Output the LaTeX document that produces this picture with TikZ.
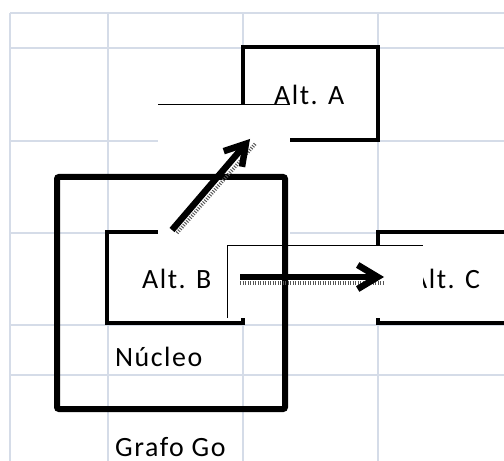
\documentclass[tikz,border=0pt]{standalone}
\usepackage{fontspec}
\setmainfont{Carlito}[LetterSpace=5.5]
\usetikzlibrary{arrows.meta}
\definecolor{gridc}{HTML}{D5DCE8}
\definecolor{shadc}{HTML}{555555}
\tikzset{
  gridline/.style={draw=gridc, line width=2bp},
  altbox/.style={draw=black, line width=4bp},
  grafobox/.style={draw=black, line width=6bp, rounded corners=2bp},
  cover/.style={fill=white, draw=none},
  thinedge/.style={draw=black, line width=1bp},
  lbl/.style={anchor=base west, inner sep=0pt, font=\fontsize{28}{32}\selectfont},
  bigarrow/.style={draw=black, line width=6.5bp, -{Straight Barb[length=20bp,width=24bp]}},
  shadowline/.style={draw=shadc, line width=3.5bp, dash pattern=on 1bp off 1.5bp},
}
\begin{document}
\begin{tikzpicture}[x=1bp,y=-1bp]
\useasboundingbox (0,0) rectangle (504,461);
\clip (0,0) rectangle (504,461);
\fill[white] (0,0) rectangle (504,461);
% grid
\foreach \gx in {10,108,243,378} \draw[gridline] (\gx,13) -- (\gx,470);
\foreach \gy in {13,48,141,233,325,375} \draw[gridline] (10,\gy) -- (510,\gy);
% alternative boxes
\draw[altbox] (243,47) rectangle (378,140);
\node[lbl] (ta) at (274,105) {Alt. A};
\draw[altbox] (107,232) rectangle (243,323);
\node[lbl] (tb) at (142,288) {Alt. B};
\draw[altbox] (378,232) rectangle (530,323);
\node[lbl] (tc) at (411,288) {Alt. C};
% covering white boxes
\fill[cover] (158,105) rectangle (290,245);
\draw[thinedge] (158,105) -- (290,105);
\fill[cover] (227,245) rectangle (423,318);
\draw[thinedge] (227,318) -- (227,245) -- (423,245);
% Grafo box
\draw[grafobox] (57,177) rectangle (285,409);
% arrows
\coordinate (a1s) at (172,230);
\coordinate (a1e) at (250,139);
\coordinate (a2s) at (240,277);
\coordinate (a2e) at (384,277);
\draw[shadowline] ([shift={(5,3)}]a1s) -- ([shift={(6,4)}]a1e);
\draw[shadowline] ([shift={(0,6)}]a2s) -- ([shift={(0,6)}]a2e);
\draw[bigarrow] (a1s) -- (a1e);
\draw[bigarrow] (a2s) -- (a2e);
\node[lbl] (tn) at (115,366) {Núcleo};
\node[lbl] (tg) at (115,456) {Grafo Go};
\end{tikzpicture}
\end{document}
